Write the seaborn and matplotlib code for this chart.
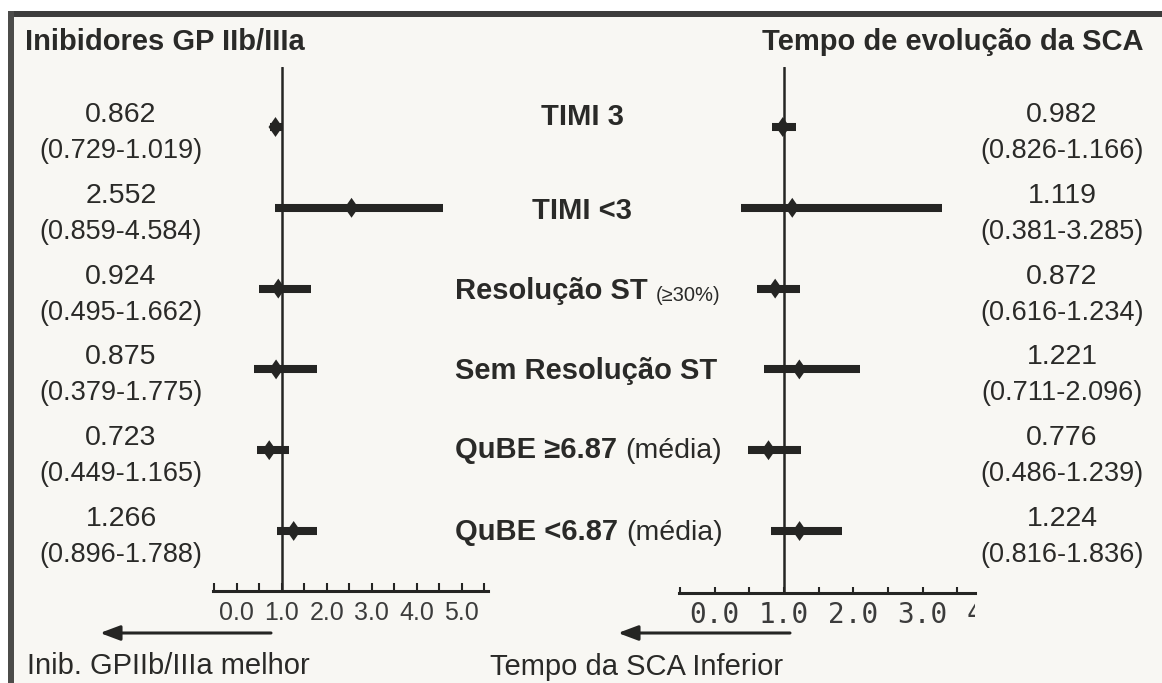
import numpy as np
import pandas as pd
import matplotlib
matplotlib.use("Agg")
import matplotlib.pyplot as plt
import seaborn as sns
from matplotlib.transforms import Affine2D, blended_transform_factory, Bbox
from matplotlib.patches import Rectangle, FancyArrowPatch

# ---------------- data ----------------
row_labels = ["TIMI 3", "TIMI <3", "Resolução ST", "Sem Resolução ST", "QuBE ≥6.87", "QuBE <6.87"]
row_notes = ["", "", "(≥30%)", "", "(média)", "(média)"]

gp_or = [0.862, 2.552, 0.924, 0.875, 0.723, 1.266]
gp_lo = [0.729, 0.859, 0.495, 0.379, 0.449, 0.896]
gp_hi = [1.019, 4.584, 1.662, 1.775, 1.165, 1.788]

sca_or = [0.982, 1.119, 0.872, 1.221, 0.776, 1.224]
sca_lo = [0.826, 0.381, 0.616, 0.711, 0.486, 0.816]
sca_hi = [1.166, 3.285, 1.234, 2.096, 1.239, 1.836]

left_title = "Inibidores GP IIb/IIIa"
right_title = "Tempo de evolução da SCA"
left_footer = "Inib. GPIIb/IIIa melhor"
right_footer = "Tempo da SCA Inferior"

left_ticks = [0, 1, 2, 3, 4, 5]
right_ticks = [0, 1, 2, 3]
right_cut_tick = 4

# ---------------- style ----------------
BG = "#f8f7f3"
INK = "#252523"
TXT = "#2a2a28"
TICKTXT = "#3c3c3c"

sns.set_style("white")
plt.rcParams["font.family"] = ["Liberation Sans", "DejaVu Sans"]

W, H = 1162, 683
fig = plt.figure(figsize=(W / 100, H / 100), dpi=100, facecolor="white")
px = Affine2D().scale(1, -1).translate(0, H)  # top-based pixel coords -> display

# frame
fig.add_artist(Rectangle((8, 11), W - 8, H - 11, transform=px, facecolor=BG, edgecolor="none", zorder=-10))
fig.add_artist(Rectangle((8, 11), W - 8, 6, transform=px, facecolor="#3d3d3c", edgecolor="none", zorder=-9))
fig.add_artist(Rectangle((8, 11), 6, H - 11, transform=px, facecolor="#4c4c4a", edgecolor="none", zorder=-9))


def add_axes_px(x0, y0, x1, y1):
    return fig.add_axes([x0 / W, 1 - y1 / H, (x1 - x0) / W, (y1 - y0) / H])


diamond = [(0, 1), (0.7, 0), (0, -1), (-0.7, 0)]
rows = np.arange(len(row_labels))


def forest(ax, orv, lo, hi, xlim, ylim, ticks, tick_len, tick_family, tick_size, pad):
    df = pd.DataFrame({"row": rows, "or": orv, "lo": lo, "hi": hi})
    ax.set_facecolor("none")
    ax.axvline(1.0, color=INK, lw=1.8, zorder=1)
    ax.hlines(df["row"], df["lo"], df["hi"], color=INK, lw=5.8, zorder=2)
    sns.scatterplot(data=df, x="or", y="row", marker=diamond, s=205, color=INK,
                    edgecolor="none", linewidth=0, ax=ax, zorder=3, legend=False)
    ax.set_xlim(*xlim)
    ax.set_ylim(*ylim)
    ax.set_xlabel("")
    ax.set_ylabel("")
    ax.set_yticks([])
    for s in ["top", "left", "right"]:
        ax.spines[s].set_visible(False)
    ax.spines["bottom"].set_linewidth(2.2)
    ax.spines["bottom"].set_color(INK)
    ax.set_xticks(ticks)
    ax.set_xticklabels([f"{t:.1f}" for t in ticks])
    halves = np.arange(-0.5, xlim[1], 1.0)
    ax.set_xticks(halves, minor=True)
    ax.tick_params(axis="x", which="both", bottom=True, direction="in", length=tick_len,
                   width=1.5, color=INK, pad=pad, labelsize=tick_size, labelcolor=TICKTXT)
    for lbl in ax.get_xticklabels():
        lbl.set_fontfamily(tick_family)


axL = add_axes_px(213.3, 67, 487.8, 591)
forest(axL, gp_or, gp_lo, gp_hi, (-0.52, 5.58), (5.743, -0.7426), left_ticks, 5.8,
       ["Liberation Sans", "DejaVu Sans"], 18, 7)

axR = add_axes_px(678.7, 67, 975.3, 593)
forest(axR, sca_or, sca_lo, sca_hi, (-0.52, 3.76), (5.767, -0.7426), right_ticks, 4.5,
       ["DejaVu Sans Mono"], 20, 6)

# partially cut "4.0" label on the right axis
t4 = axR.text(right_cut_tick, 622, f"{right_cut_tick:.1f}",
              transform=blended_transform_factory(axR.transData, px),
              ha="center", va="baseline", fontsize=20, color=TICKTXT,
              family=["DejaVu Sans Mono"])
t4.set_clip_box(Bbox([[0, 0], [975, H]]))
t4.set_clip_on(True)

# value texts
rowtr = blended_transform_factory(px, axL.transData)
for i in rows:
    for xc, v, l, h in [(121, gp_or[i], gp_lo[i], gp_hi[i]), (1062, sca_or[i], sca_lo[i], sca_hi[i])]:
        axL.annotate(f"{v:.3f}", xy=(xc, i), xycoords=rowtr, xytext=(0, 5), textcoords="offset pixels",
                     ha="center", va="baseline", fontsize=20.5, color=TXT)
        axL.annotate(f"({l:.3f}-{h:.3f})", xy=(xc, i), xycoords=rowtr, xytext=(0, -31),
                     textcoords="offset pixels", ha="center", va="baseline", fontsize=19.5, color=TXT)

# middle labels
label_x = [582, 582, 455, 455, 455, 455]
label_ha = ["center", "center", "left", "left", "left", "left"]
label_dy = [-2, 11, 10, 10, 8, 9]
note_size = [20.5, 20.5, 14.5, 20.5, 20.5, 20.5]
for i in rows:
    tb = axL.annotate(row_labels[i], xy=(label_x[i], i), xycoords=rowtr, xytext=(0, -label_dy[i]),
                      textcoords="offset pixels", ha=label_ha[i], va="baseline",
                      fontsize=21, fontweight="bold", color=TXT)
    if row_notes[i]:
        axL.annotate(row_notes[i], xy=(1, 0), xycoords=tb, xytext=(8, 0), textcoords="offset pixels",
                     ha="left", va="bottom", fontsize=note_size[i], color=TXT)

# titles
fig.text(25 / W, 1 - 50 / H, left_title, ha="left", va="baseline", fontsize=21, fontweight="bold", color=TXT)
fig.text(1143 / W, 1 - 50 / H, right_title, ha="right", va="baseline", fontsize=21, fontweight="bold", color=TXT)

# footers and arrows
fig.text(27 / W, 1 - 674 / H, left_footer, ha="left", va="baseline", fontsize=21, color=TXT)
fig.text(783 / W, 1 - 675 / H, right_footer, ha="right", va="baseline", fontsize=21, color=TXT)
for a, b in [((271, 633), (100, 633)), ((790, 633), (618, 633))]:
    fig.add_artist(FancyArrowPatch(a, b, transform=px, arrowstyle="-|>,head_length=1.2,head_width=0.45",
                                   mutation_scale=10, lw=2.2, color=INK, shrinkA=0, shrinkB=0))

fig.savefig("out.png", dpi=100, facecolor=fig.get_facecolor())
